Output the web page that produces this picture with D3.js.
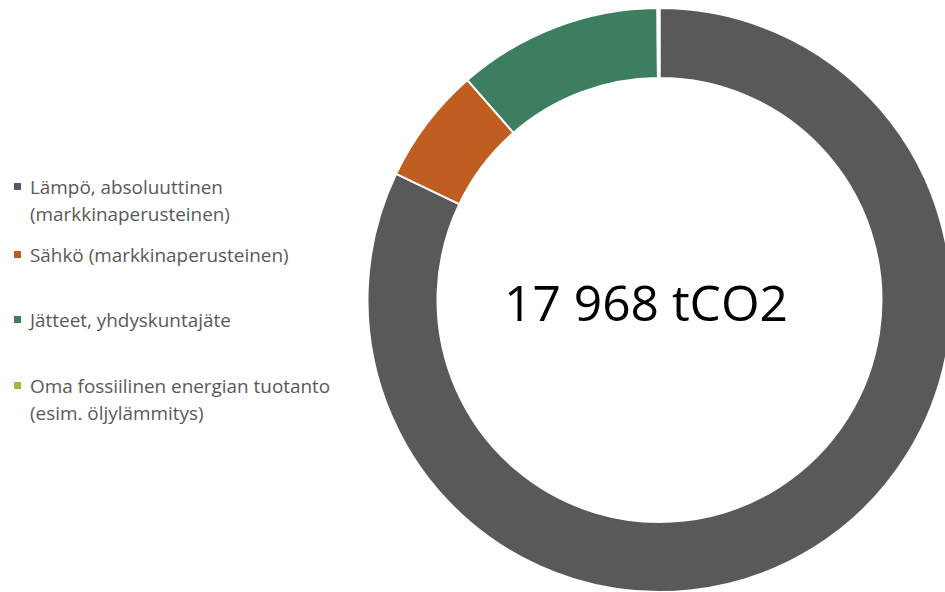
<!DOCTYPE html>
<html>
<head>
<meta charset="utf-8">
<script src="https://cdn.jsdelivr.net/npm/d3@7"></script>
<style>
  html, body { margin: 0; padding: 0; background: #fff; }
  svg { display: block; }
</style>
</head>
<body>
<svg id="chart" width="945" height="592"></svg>
<script>
const categories = [
  "Lämpö, absoluuttinen (markkinaperusteinen)",
  "Sähkö (markkinaperusteinen)",
  "Jätteet, yhdyskuntajäte",
  "Oma fossiilinen energian tuotanto (esim. öljylämmitys)"
];
const legendLines = [
  ["Lämpö, absoluuttinen", "(markkinaperusteinen)"],
  ["Sähkö (markkinaperusteinen)"],
  ["Jätteet, yhdyskuntajäte"],
  ["Oma fossiilinen energian tuotanto", "(esim. öljylämmitys)"]
];
const values = [14754, 1161, 2033, 20];
const colors = ["#595959", "#C05D21", "#3E7E60", "#9BBB3C"];
const centerLabel = "17 968 tCO2";

const svg = d3.select("#chart");
const cx = 659.5, cy = 300, outerR = 292, innerR = 222;

const pie = d3.pie().sort(null).value(d => d)(values);
const arc = d3.arc().innerRadius(innerR).outerRadius(outerR);

const g = svg.append("g").attr("transform", `translate(${cx},${cy})`);
g.selectAll("path").data(pie).enter().append("path")
  .attr("d", arc)
  .attr("fill", (d, i) => colors[i])
  .attr("stroke", "#fff")
  .attr("stroke-width", 2)
  .attr("stroke-linejoin", "miter");

svg.append("text")
  .attr("x", 646).attr("y", 321)
  .attr("text-anchor", "middle")
  .attr("font-family", "Open Sans, sans-serif")
  .attr("font-size", 49.7)
  .attr("fill", "#000")
  .text(centerLabel);

const baselines = [194, 262, 327, 393];
const lineStep = 27;
const leg = svg.append("g");
legendLines.forEach((lines, i) => {
  leg.append("rect")
    .attr("x", 14).attr("y", baselines[i] - 11)
    .attr("width", 7).attr("height", 7)
    .attr("fill", colors[i]);
  const t = leg.append("text")
    .attr("font-family", "Open Sans, sans-serif")
    .attr("font-size", 18.9)
    .attr("fill", "#595959");
  lines.forEach((ln, j) => {
    t.append("tspan").attr("x", 30).attr("y", baselines[i] + j * lineStep).text(ln);
  });
});
</script>
</body>
</html>
